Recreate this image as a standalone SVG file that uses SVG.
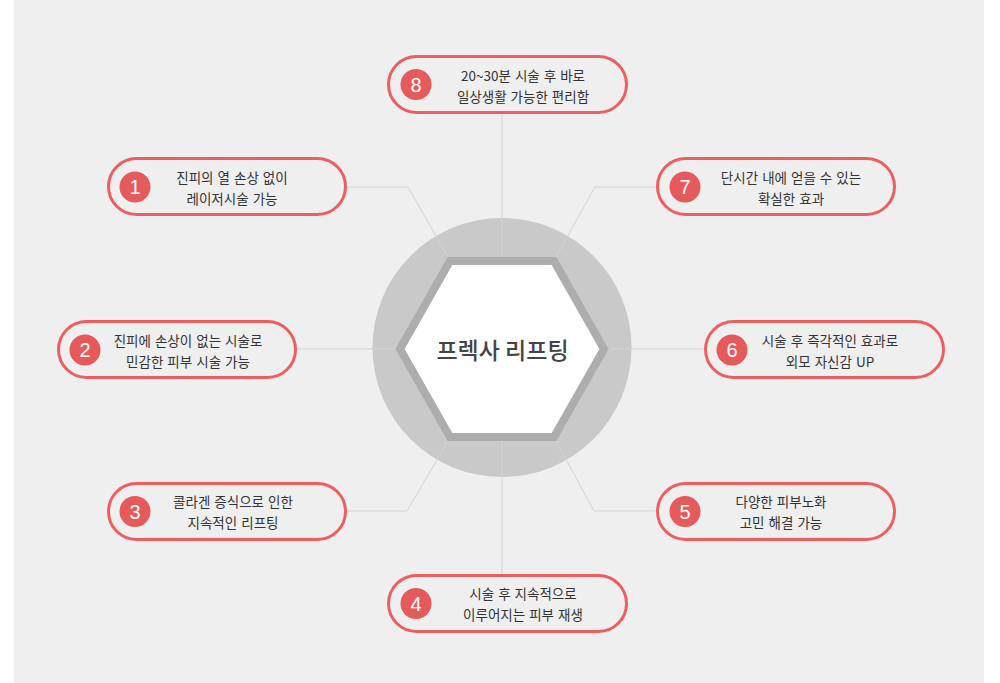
<svg xmlns="http://www.w3.org/2000/svg" width="1000" height="683" viewBox="0 0 1000 683">
<style>
.pill{fill:#efefef;stroke:#ef5e5e;stroke-width:3}
.num{fill:#e55a5a}
.numt{font-family:"Liberation Sans",Arial,sans-serif;font-size:20px;fill:#fff;text-anchor:middle}
.t{font-family:"Noto Sans CJK KR","Noto Sans",sans-serif;font-size:13.5px;fill:#333;text-anchor:middle;word-spacing:1px}
.con{fill:none;stroke:#d3d3d3;stroke-width:1}
</style>
<rect x="0" y="0" width="1000" height="683" fill="#ffffff"/>
<rect x="14" y="0" width="970" height="683" fill="#efefef"/>
<g id="center-ring">
<circle cx="502" cy="347.5" r="129.5" fill="#c9c9c9"/>
</g>
<g id="connectors">
<polyline class="con" points="347,187 408,187 448,257"/>
<polyline class="con" points="656,187 595,187 556,257"/>
<polyline class="con" points="296,349 396,349"/>
<polyline class="con" points="609,349 704,349"/>
<polyline class="con" points="347,511 407,511 448,441"/>
<polyline class="con" points="656,511 594,511 556,441"/>
<line class="con" x1="502" y1="114" x2="502" y2="257"/>
<line class="con" x1="502" y1="441" x2="502" y2="574"/>
</g>
<g id="center">
<polygon points="400,349 450,261 554,261 604,349 554,437 450,437" fill="#ffffff" stroke="#adadad" stroke-width="8"/>
<text x="502.5" y="359" font-family="'Noto Sans CJK KR','Noto Sans',sans-serif" font-size="23" font-weight="500" fill="#444" text-anchor="middle">프렉사 리프팅</text>
</g>
<g id="node8">
<rect class="pill" x="388.5" y="56.5" width="238" height="56" rx="28"/>
<circle class="num" cx="416" cy="84.5" r="15.5"/>
<text class="numt" x="416" y="91.5">8</text>
<text class="t" x="523" y="81">20~30분 시술 후 바로</text>
<text class="t" x="523" y="102">일상생활 가능한 편리함</text>
</g>
<g id="node1">
<rect class="pill" x="108.5" y="158.5" width="237" height="56" rx="28"/>
<circle class="num" cx="135" cy="187" r="15.5"/>
<text class="numt" x="135" y="194">1</text>
<text class="t" x="232" y="183">진피의 열 손상 없이</text>
<text class="t" x="232" y="204">레이저시술 가능</text>
</g>
<g id="node7">
<rect class="pill" x="657.5" y="158.5" width="237" height="56" rx="28"/>
<circle class="num" cx="685" cy="187" r="15.5"/>
<text class="numt" x="685" y="194">7</text>
<text class="t" x="791" y="183">단시간 내에 얻을 수 있는</text>
<text class="t" x="791" y="204">확실한 효과</text>
</g>
<g id="node2">
<rect class="pill" x="58.5" y="321.5" width="237" height="56" rx="28"/>
<circle class="num" cx="85" cy="350" r="15.5"/>
<text class="numt" x="85" y="357">2</text>
<text class="t" x="188" y="346">진피에 손상이 없는 시술로</text>
<text class="t" x="188" y="367">민감한 피부 시술 가능</text>
</g>
<g id="node6">
<rect class="pill" x="705.5" y="321.5" width="238" height="56" rx="28"/>
<circle class="num" cx="732" cy="350" r="15.5"/>
<text class="numt" x="732" y="357">6</text>
<text class="t" x="830" y="346">시술 후 즉각적인 효과로</text>
<text class="t" x="830" y="367">외모 자신감 UP</text>
</g>
<g id="node3">
<rect class="pill" x="108.5" y="483.5" width="237" height="56" rx="28"/>
<circle class="num" cx="135" cy="511.5" r="15.5"/>
<text class="numt" x="135" y="518.5">3</text>
<text class="t" x="233" y="507">콜라겐 증식으로 인한</text>
<text class="t" x="233" y="528">지속적인 리프팅</text>
</g>
<g id="node5">
<rect class="pill" x="657.5" y="483.5" width="237" height="56" rx="28"/>
<circle class="num" cx="685" cy="511.5" r="15.5"/>
<text class="numt" x="685" y="518.5">5</text>
<text class="t" x="781" y="507">다양한 피부노화</text>
<text class="t" x="781" y="528">고민 해결 가능</text>
</g>
<g id="node4">
<rect class="pill" x="388.5" y="575.5" width="238" height="56" rx="28"/>
<circle class="num" cx="416" cy="603.5" r="15.5"/>
<text class="numt" x="416" y="610.5">4</text>
<text class="t" x="523" y="599">시술 후 지속적으로</text>
<text class="t" x="523" y="620">이루어지는 피부 재생</text>
</g>
</svg>
